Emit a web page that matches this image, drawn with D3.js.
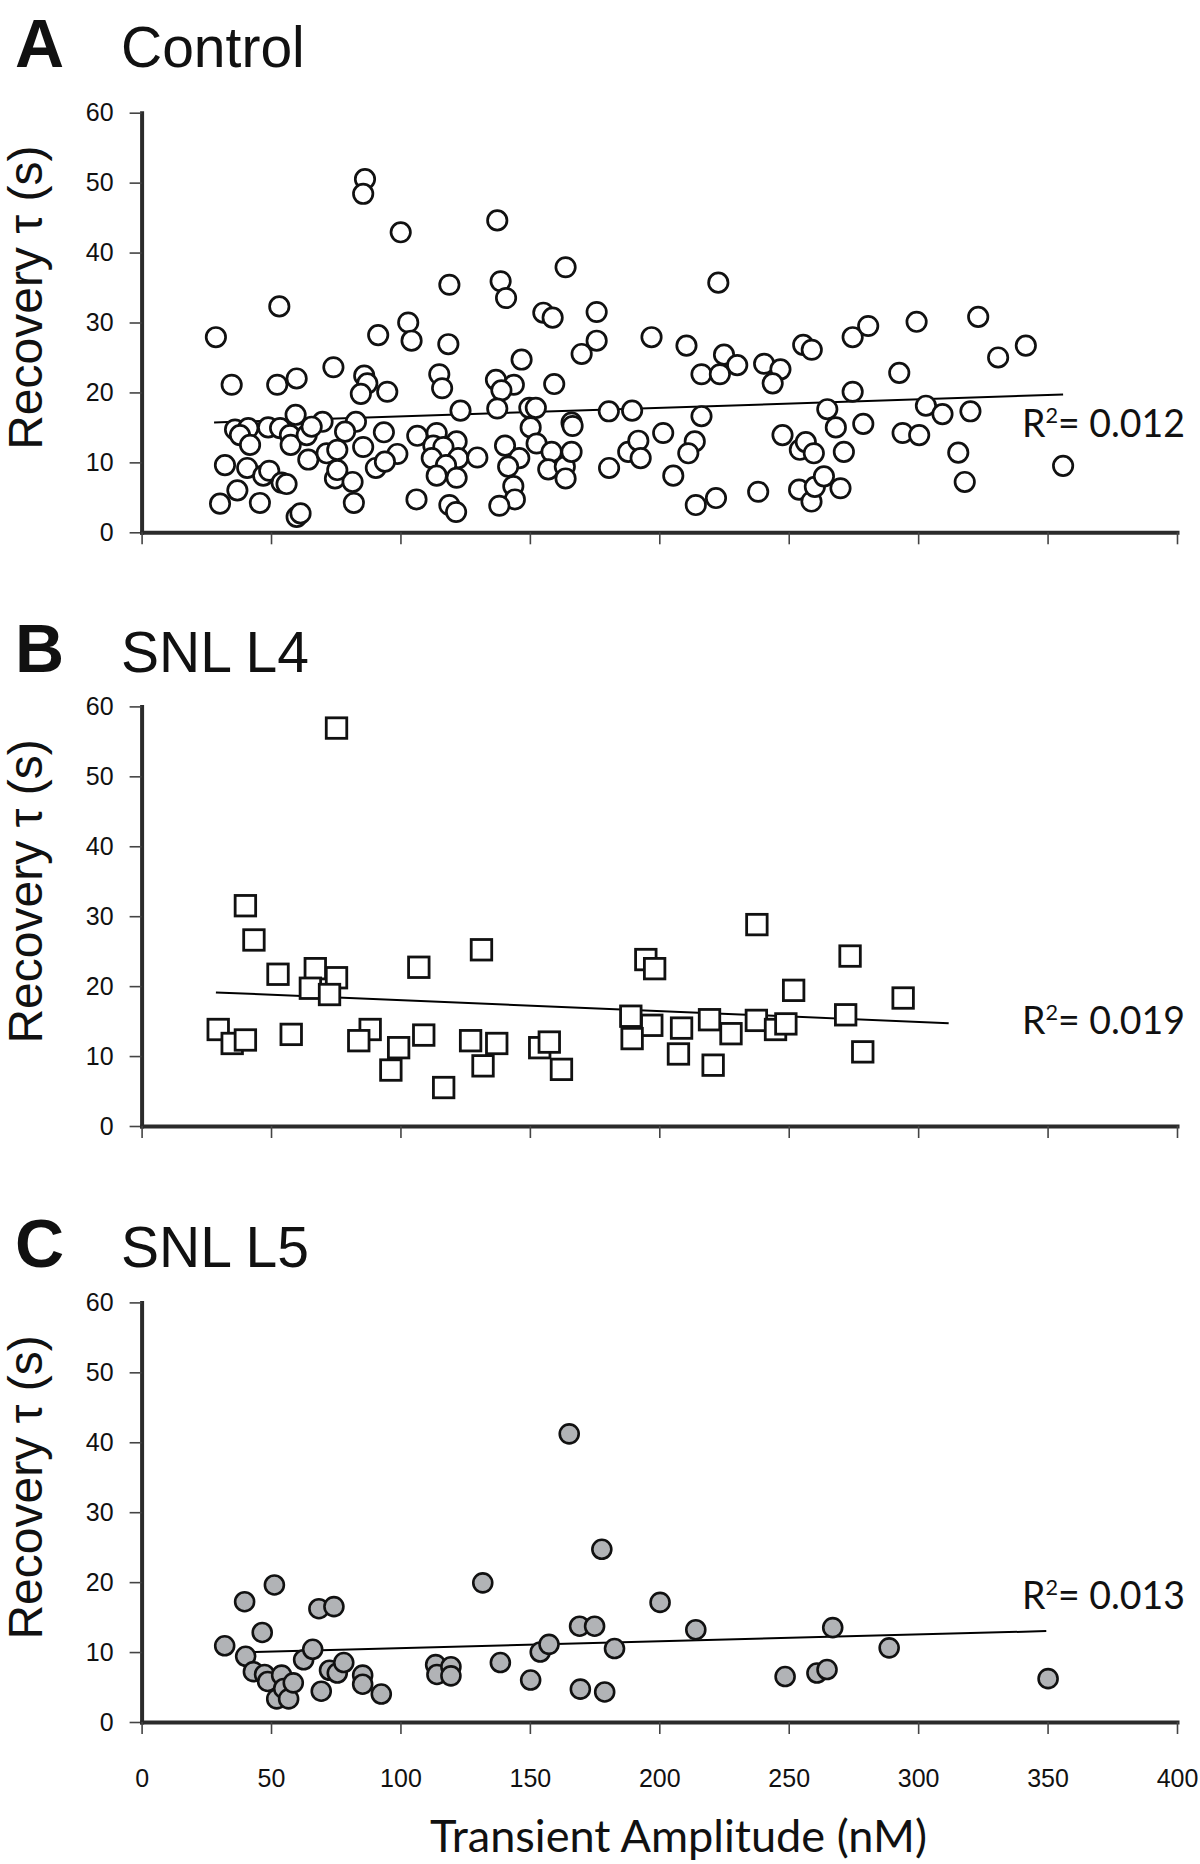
<!DOCTYPE html>
<html>
<head>
<meta charset="utf-8">
<script src="https://cdn.jsdelivr.net/npm/d3@7"></script>
<style>
  body { margin: 0; background: #fff; }
  svg text { font-family: "Liberation Sans", Arial, sans-serif; fill: #111; }
</style>
</head>
<body>
<div id="chart"></div>
<script>
// values: [transient amplitude (nM), recovery tau (s)]
const controlPts = [
  [86.3,50.5],[85.6,48.4],[100.1,42.9],[53.2,32.3],[28.7,27.9],[91.4,28.2],[34.8,21.1],[52.4,21.1],
  [59.9,22.0],[74.1,23.6],[86.0,22.4],[87.2,21.3],[84.7,19.8],[94.9,20.1],[59.5,16.8],[69.9,15.8],
  [82.8,15.8],[36.1,14.7],[41.2,14.9],[48.9,15.0],[53.5,14.9],[38.0,13.9],[41.9,12.5],[57.3,13.9],
  [57.6,12.5],[63.8,13.9],[65.7,15.1],[78.6,14.4],[93.6,14.3],[85.6,12.2],[64.4,10.4],[71.5,11.3],
  [75.6,11.8],[98.8,11.2],[32.2,9.6],[40.8,9.2],[47.0,8.1],[49.3,8.8],[54.1,7.1],[56.0,6.9],
  [74.7,7.7],[75.6,8.9],[81.5,7.2],[90.5,9.2],[94.0,10.1],[37.0,6.0],[30.3,4.1],[45.7,4.2],
  [82.0,4.2],[59.9,2.2],[61.4,2.7],
  [137.4,44.6],[163.8,37.9],[118.9,35.4],[138.7,35.9],[140.8,33.5],[155.2,31.4],[158.8,30.7],[175.8,31.5],
  [103.0,30.0],[104.3,27.4],[118.5,26.9],[175.8,27.4],[170.0,25.5],[197.0,27.9],[146.8,24.7],[115.0,22.6],
  [116.1,20.6],[136.9,21.8],[143.8,21.1],[139.0,20.3],[159.4,21.2],[123.2,17.4],[137.4,17.7],[149.8,17.8],
  [152.3,17.8],[180.5,17.3],[189.5,17.4],[106.5,13.8],[114.0,14.2],[121.7,13.0],[112.7,12.4],[116.6,12.2],
  [112.1,10.6],[122.3,10.6],[129.7,10.7],[117.6,9.6],[114.0,8.1],[121.7,7.8],[106.2,4.7],[118.9,3.9],
  [121.5,2.9],[140.4,12.4],[145.9,10.6],[141.6,9.4],[143.6,6.6],[144.2,4.7],[138.2,3.8],[150.3,15.0],
  [152.6,12.7],[158.4,11.5],[157.1,9.0],[163.5,9.4],[163.8,7.7],[166.1,15.7],[166.5,15.2],[166.1,11.5],
  [180.6,9.2],[188.0,11.5],[191.9,13.1],[192.8,10.6],
  [222.8,35.7],[210.5,26.7],[225.0,25.4],[230.1,23.9],[216.3,22.6],[223.4,22.6],[240.5,24.1],[246.8,23.3],
  [243.8,21.3],[255.6,26.8],[258.9,26.1],[274.7,27.9],[280.7,29.5],[292.7,22.8],[274.7,20.1],[264.9,17.6],
  [216.3,16.6],[201.5,14.2],[213.7,13.0],[211.2,11.3],[205.4,8.1],[214.1,3.9],[221.9,4.9],[238.2,5.8],
  [247.6,13.9],[254.3,11.8],[256.6,12.9],[259.7,11.3],[268.2,15.0],[271.3,11.5],[278.8,15.5],[254.0,6.1],
  [258.8,4.4],[260.1,6.5],[263.6,8.0],[270.0,6.3],[294.0,14.2],
  [299.4,30.1],[323.2,30.8],[341.6,26.7],[330.9,25.0],[303.0,18.1],[309.4,16.9],[320.2,17.3],[300.4,13.9],
  [315.5,11.4],[318.0,7.2],[356.0,9.5]
];

const snlL4Pts = [
  [75.3,56.9],[40.1,31.5],[43.4,26.6],[52.7,21.7],[67.1,22.5],[65.2,19.7],[75.3,21.2],[72.6,18.8],
  [29.6,13.8],[35.0,11.8],[40.1,12.3],[57.8,13.1],[88.3,13.8],[83.9,12.2],[96.3,8.0],[99.3,11.2],
  [107.1,22.7],[109.0,13.0],[116.7,5.5],[131.3,25.2],[127.1,12.2],[131.9,8.6],[137.2,11.8],[153.8,11.2],
  [157.5,12.0],[162.2,8.1],
  [237.7,28.8],[194.8,23.8],[198.2,22.5],[273.7,24.3],[251.9,19.4],[294.2,18.3],[189.0,15.7],[197.1,14.4],
  [189.5,12.5],[208.6,14.0],[207.4,10.3],[219.4,15.2],[227.7,13.2],[220.8,8.7],[237.5,15.1],[244.9,13.8],
  [248.9,14.6],[272.0,15.9],[278.6,10.6]
];

const snlL5Pts = [
  [32.1,10.9],[39.8,17.2],[40.2,9.4],[46.6,12.8],[51.3,19.6],[43.2,7.2],[47.5,6.8],[48.7,5.8],
  [54.1,6.7],[52.2,3.3],[54.9,4.8],[56.8,3.3],[58.6,5.6],[62.6,8.9],[66.1,10.4],[68.5,16.2],
  [74.3,16.5],[69.4,4.4],[72.6,7.4],[75.6,7.0],[78.1,8.5],[85.4,6.7],[85.4,5.4],[92.6,4.0],
  [113.6,8.2],[114.1,6.8],[119.5,7.9],[119.5,6.6],[131.8,19.9],[138.6,8.5],[150.3,6.0],[154.0,10.0],
  [157.4,11.1],[165.2,41.2],[169.2,13.7],[169.5,4.7],[175.0,13.7],[177.8,24.7],[182.7,10.5],[178.9,4.3],
  [200.3,17.1],[214.1,13.2],[248.6,6.5],[260.9,7.0],[264.8,7.5],[267.0,13.5],[288.8,10.6],[350.2,6.2]
];

// linear trend lines (end points)
const controlFit = [[28,15.7],[356,19.7]];
const snlL4Fit = [[28.7,19.1],[311.8,14.7]];
const snlL5Fit = [[43.8,10.0],[349.5,13.0]];

const panelLetters = ["A", "B", "C"];
const panelNames = ["Control", "SNL L4", "SNL L5"];
const r2Values = ["0.012", "0.019", "0.013"];
const xTicks = [0, 50, 100, 150, 200, 250, 300, 350, 400];
const yTicks = [0, 10, 20, 30, 40, 50, 60];
const yTitle = "Recovery \u03c4 (s)";
const xTitle = "Transient Amplitude (nM)";

const width = 1200, height = 1864;

const svg = d3.select("#chart").append("svg")
    .attr("width", width)
    .attr("height", height);

const x = d3.scaleLinear().domain([0, 400]).range([141.6, 1177]);

const panels = [
  {pts: controlPts, fit: controlFit, shape: "circle", fill: "#fff", top: 112.7, bottom: 532.3, titleY: 66.7, r2Y: 437},
  {pts: snlL4Pts, fit: snlL4Fit, shape: "square", fill: "#fff", top: 706.4, bottom: 1126, titleY: 672, r2Y: 1034},
  {pts: snlL5Pts, fit: snlL5Fit, shape: "circle", fill: "#b1b3b6", top: 1302.4, bottom: 1722, titleY: 1267, r2Y: 1609}
];

panels.forEach((p, i) => {
  const y = d3.scaleLinear().domain([0, 60]).range([p.bottom, p.top]);
  const last = i === panels.length - 1;

  // panel letter + name
  svg.append("text")
      .attr("x", 15).attr("y", p.titleY)
      .style("font-size", "68px").style("font-weight", "bold")
      .text(panelLetters[i]);
  svg.append("text")
      .attr("x", 121).attr("y", p.titleY)
      .style("font-size", "57px")
      .text(panelNames[i]);

  // y axis title
  svg.append("text")
      .attr("text-anchor", "middle")
      .attr("transform", "translate(41.5," + (p.top + 185) + ")rotate(-90)")
      .style("font-size", "48px")
      .text(yTitle);

  // trend line under the markers
  svg.append("path")
      .datum(p.fit)
      .attr("fill", "none")
      .attr("stroke", "#000")
      .attr("stroke-width", 2)
      .attr("d", d3.line().x(d => x(d[0])).y(d => y(d[1])));

  // markers
  const g = svg.append("g");
  if (p.shape === "square") {
    const s = 20.5;
    g.selectAll("rect").data(p.pts).join("rect")
        .attr("x", d => x(d[0]) - s / 2)
        .attr("y", d => y(d[1]) - s / 2)
        .attr("width", s).attr("height", s)
        .attr("fill", p.fill)
        .attr("stroke", "#111")
        .attr("stroke-width", 2.8);
  } else {
    g.selectAll("circle").data(p.pts).join("circle")
        .attr("cx", d => x(d[0]))
        .attr("cy", d => y(d[1]))
        .attr("r", i === 2 ? 9.5 : 9.7)
        .attr("fill", p.fill)
        .attr("stroke", "#111")
        .attr("stroke-width", i === 2 ? 2.6 : 2.7);
  }

  // axes
  const yAxis = svg.append("g")
      .attr("transform", "translate(" + x(0) + ",0)")
      .call(d3.axisLeft(y).tickValues(yTicks).tickSize(12).tickSizeOuter(0).tickPadding(16));

  const xAxis = svg.append("g")
      .attr("transform", "translate(0," + p.bottom + ")")
      .call(d3.axisBottom(x).tickValues(xTicks).tickSize(12).tickSizeOuter(0)
        .tickPadding(35).tickFormat(last ? d3.format("d") : ""));

  [yAxis, xAxis].forEach(a => {
    a.select(".domain").attr("stroke", "#2b2b2b").attr("stroke-width", 4).attr("stroke-linecap", "square");
    a.selectAll(".tick line").attr("stroke", "#444").attr("stroke-width", 1.6);
    a.selectAll(".tick text")
        .style("font-size", "25px")
        .style("font-family", "\"Liberation Sans\", Arial, sans-serif")
        .attr("fill", "#111");
  });

  // R squared label
  const r2 = svg.append("text")
      .attr("x", 1022).attr("y", p.r2Y)
      .style("font-family", "Lato, \"Open Sans\", sans-serif")
      .style("font-size", "38px")
      .attr("textLength", 163)
      .attr("lengthAdjust", "spacingAndGlyphs");
  r2.append("tspan").text("R");
  r2.append("tspan").attr("dy", "-14").style("font-size", "22px").text("2");
  r2.append("tspan").attr("dy", "14").text("= " + r2Values[i]);
});

// x axis title
svg.append("text")
    .attr("x", 430).attr("y", 1852)
    .style("font-family", "Lato, \"Open Sans\", sans-serif")
    .style("font-size", "45px")
    .attr("textLength", 497)
    .attr("lengthAdjust", "spacingAndGlyphs")
    .text(xTitle);
</script>
</body>
</html>
